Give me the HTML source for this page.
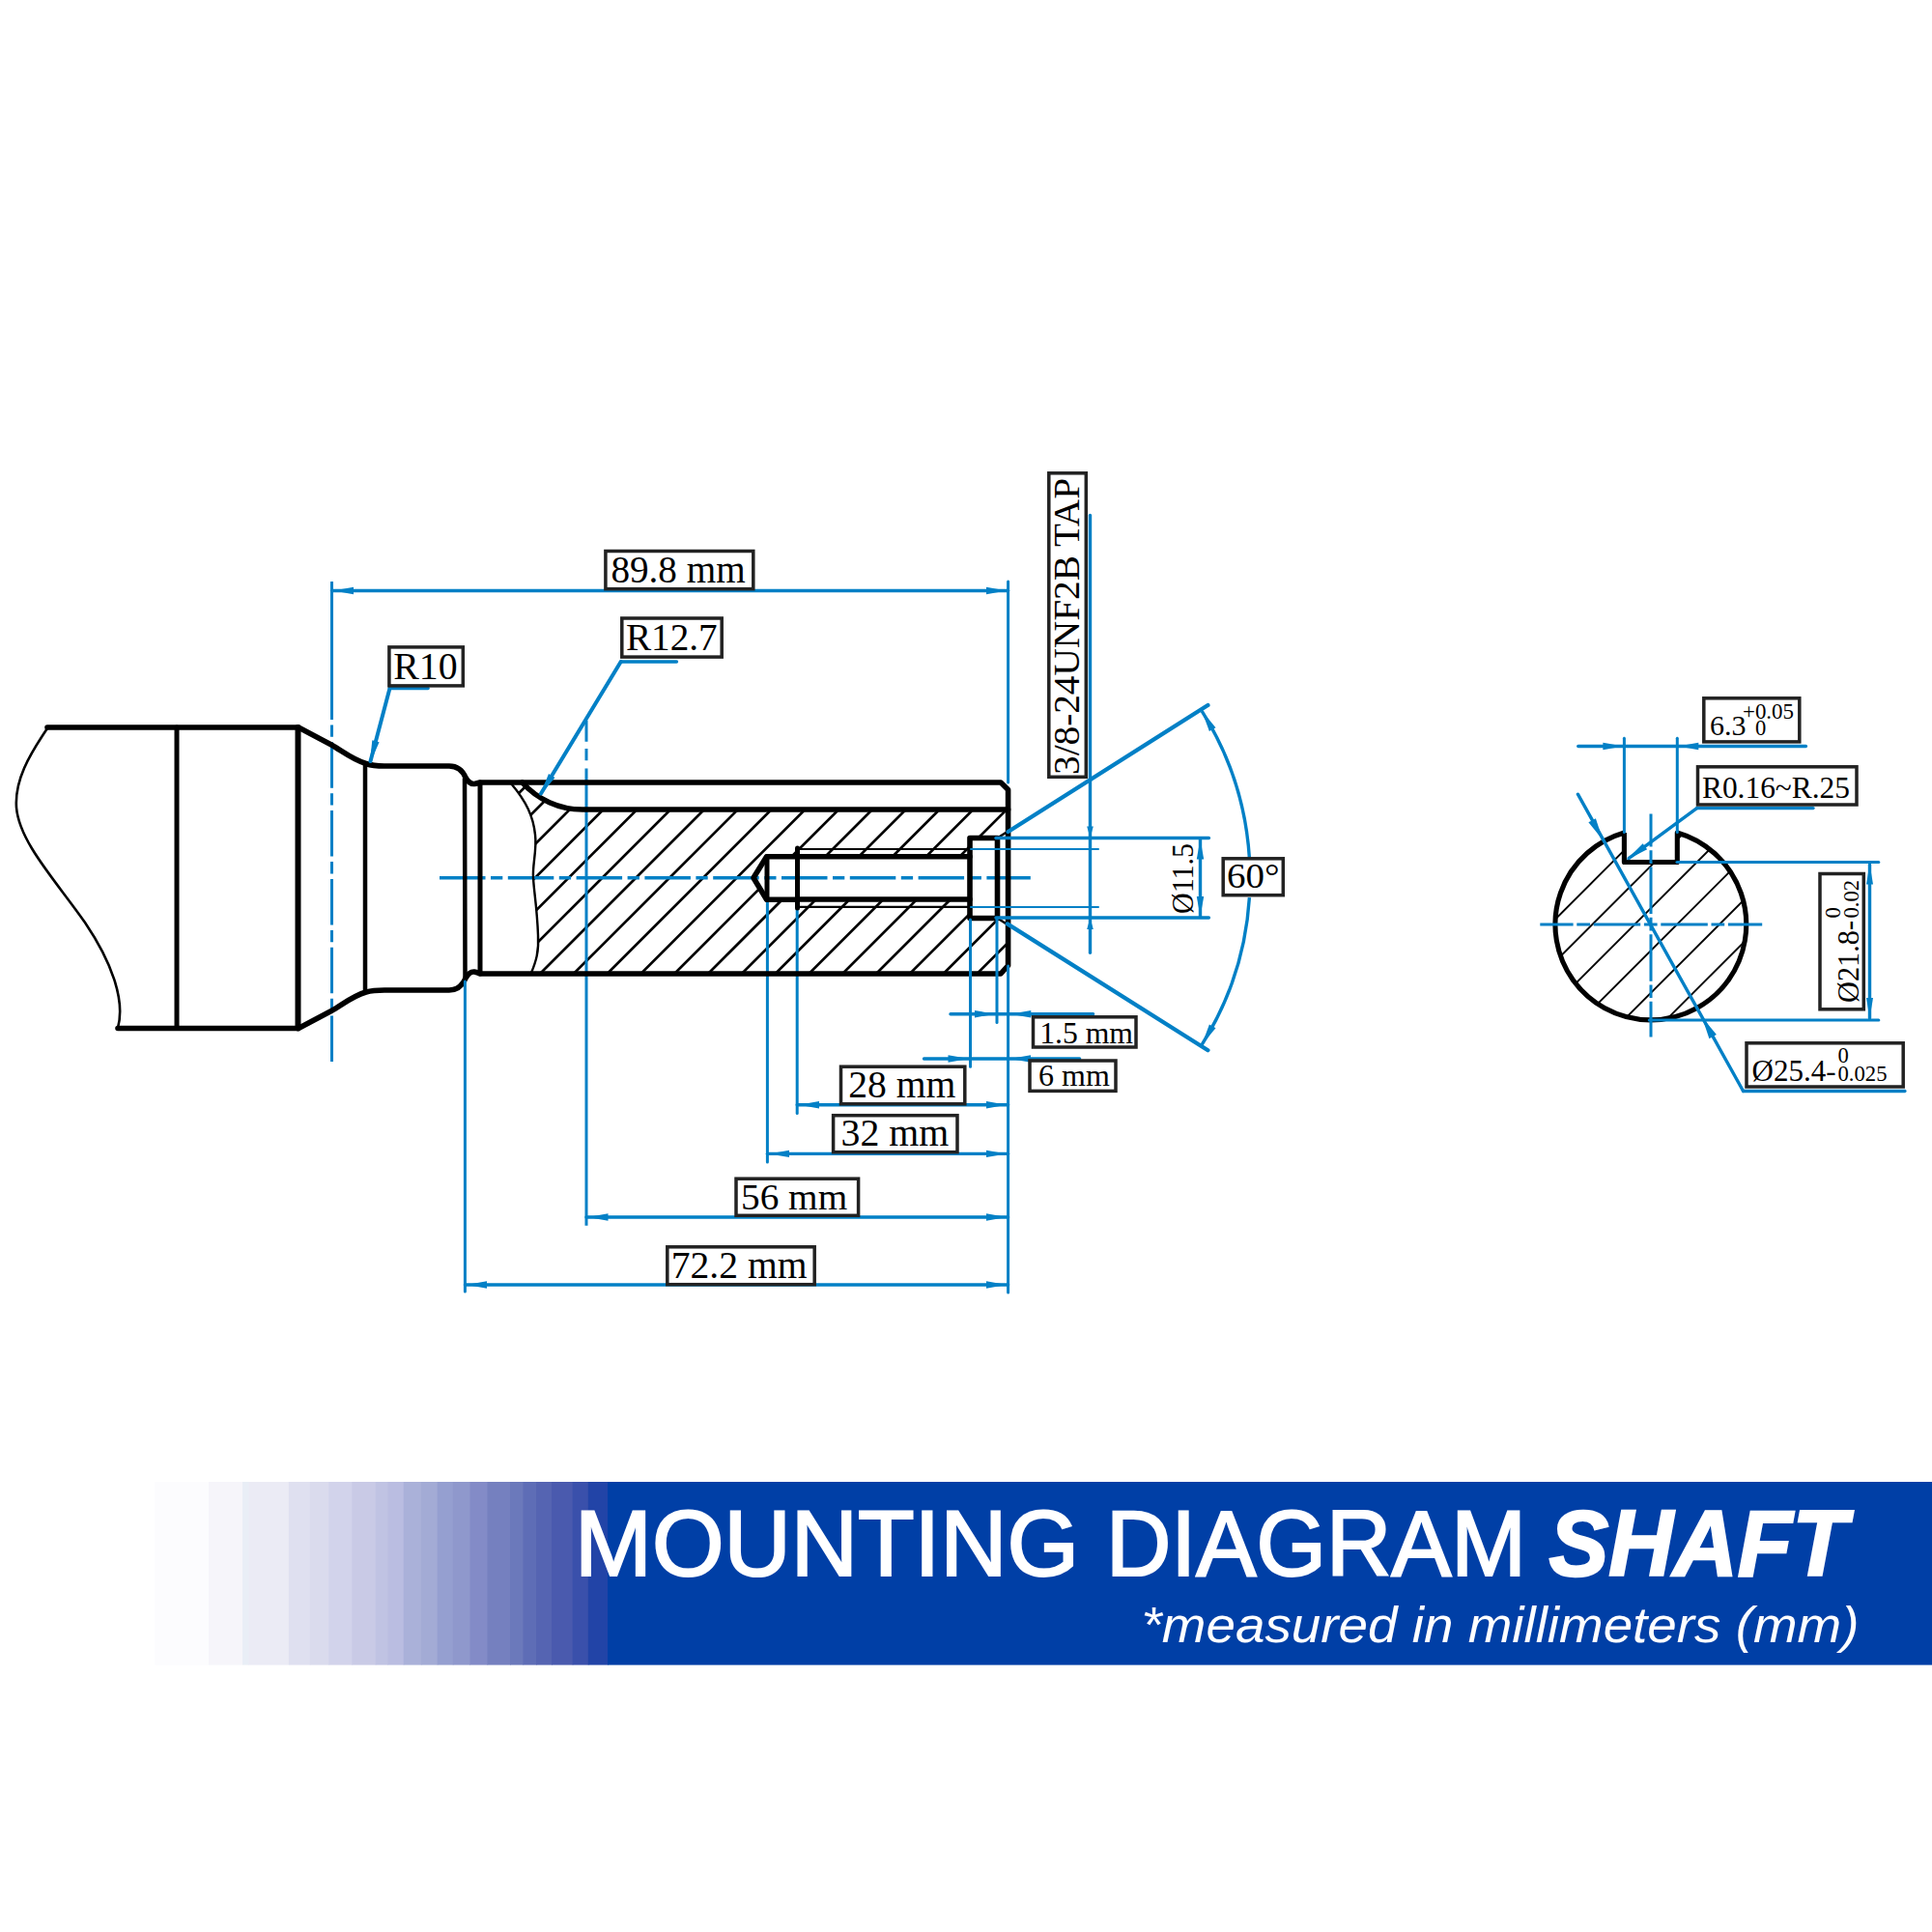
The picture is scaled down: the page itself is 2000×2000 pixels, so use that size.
<!DOCTYPE html>
<html><head><meta charset="utf-8"><style>
html,body{margin:0;padding:0;background:#fff;}
svg{display:block;}
</style></head><body>
<svg width="2000" height="2000" viewBox="0 0 2000 2000">
<rect width="2000" height="2000" fill="#fff"/>
<defs><linearGradient id="bg" x1="158" y1="0" x2="630" y2="0" gradientUnits="userSpaceOnUse"><stop offset="0" stop-color="#ffffff"/><stop offset="0.25" stop-color="#ecedf6"/><stop offset="0.45" stop-color="#c9cbe6"/><stop offset="0.65" stop-color="#97a0d0"/><stop offset="0.85" stop-color="#5566b6"/><stop offset="1" stop-color="#003ea6"/></linearGradient>
<clipPath id="hc"><path d="M529,810 C545,830 552,845 554,864 C556,880 551,895 552,909 C553,925 556,940 557,968 C558,985 555,995 550,1008 H1036 L1043.6,1000 V957 L1032,950.5 H1004 V931 H793.6 L780,908.8 L793.6,886.8 H1004 V867 H1032 L1043.6,860 V838 H603 A83.5,83.5 0 0 1 540.6,810 Z"/></clipPath>
<clipPath id="cc"><path d="M1681.4,862 V892.5 H1736.3 V862 A98.9,98.9 0 1 1 1681.4,862 Z"/></clipPath>
</defs>
<rect x="160.4" y="1534" width="56.2" height="189.6" fill="#fcfcfe"/>
<rect x="216" y="1534" width="35.6" height="189.6" fill="#f6f5fa"/>
<rect x="251" y="1534" width="7.0" height="189.6" fill="#e9eef6"/>
<rect x="257.4" y="1534" width="42.0" height="189.6" fill="#ebebf5"/>
<rect x="298.8" y="1534" width="22.6" height="189.6" fill="#dfe0f0"/>
<rect x="320.8" y="1534" width="20.0" height="189.6" fill="#dadbed"/>
<rect x="340.2" y="1534" width="24.6" height="189.6" fill="#d2d3eb"/>
<rect x="364.2" y="1534" width="25.1" height="189.6" fill="#c9cae6"/>
<rect x="388.7" y="1534" width="13.4" height="189.6" fill="#c0c3e3"/>
<rect x="401.5" y="1534" width="16.8" height="189.6" fill="#babde1"/>
<rect x="417.7" y="1534" width="18.8" height="189.6" fill="#aab1d9"/>
<rect x="435.9" y="1534" width="17.4" height="189.6" fill="#a3abd5"/>
<rect x="452.7" y="1534" width="16.7" height="189.6" fill="#959fd0"/>
<rect x="468.8" y="1534" width="18.1" height="189.6" fill="#8f98cc"/>
<rect x="486.3" y="1534" width="18.8" height="189.6" fill="#838bc7"/>
<rect x="504.5" y="1534" width="24.1" height="189.6" fill="#7580bf"/>
<rect x="528" y="1534" width="14.1" height="189.6" fill="#6b79bb"/>
<rect x="541.5" y="1534" width="14.1" height="189.6" fill="#5e6db6"/>
<rect x="555" y="1534" width="16.6" height="189.6" fill="#5564b2"/>
<rect x="571" y="1534" width="22.3" height="189.6" fill="#4a5aae"/>
<rect x="592.7" y="1534" width="16.7" height="189.6" fill="#3a50ab"/>
<rect x="608.8" y="1534" width="20.8" height="189.6" fill="#2244a7"/>
<rect x="629" y="1534" width="1371.6" height="189.6" fill="#003fa6"/>
<g font-family="Liberation Sans" font-size="96" fill="#fff" stroke="#fff" stroke-width="2.2">
<text x="595" y="1631" textLength="522" lengthAdjust="spacingAndGlyphs">MOUNTING</text>
<text x="1145" y="1631" textLength="435" lengthAdjust="spacingAndGlyphs">DIAGRAM</text>
<text x="1603.5" y="1631" textLength="308.4" lengthAdjust="spacingAndGlyphs" font-weight="bold" font-style="italic" stroke-width="2.4">SHAFT</text>
</g>
<text x="1181.5" y="1699.5" font-family="Liberation Sans" font-size="52" font-style="italic" fill="#fff" textLength="743" lengthAdjust="spacingAndGlyphs">*measured in millimeters (mm)</text>
<g clip-path="url(#hc)" stroke="#000" stroke-width="2.7">
<line x1="303.4" y1="1020" x2="523.4" y2="800"/>
<line x1="338.2" y1="1020" x2="558.2" y2="800"/>
<line x1="373.0" y1="1020" x2="593.0" y2="800"/>
<line x1="407.8" y1="1020" x2="627.8" y2="800"/>
<line x1="442.6" y1="1020" x2="662.6" y2="800"/>
<line x1="477.4" y1="1020" x2="697.4" y2="800"/>
<line x1="512.2" y1="1020" x2="732.2" y2="800"/>
<line x1="547.0" y1="1020" x2="767.0" y2="800"/>
<line x1="581.8" y1="1020" x2="801.8" y2="800"/>
<line x1="616.6" y1="1020" x2="836.6" y2="800"/>
<line x1="651.4" y1="1020" x2="871.4" y2="800"/>
<line x1="686.2" y1="1020" x2="906.2" y2="800"/>
<line x1="721.0" y1="1020" x2="941.0" y2="800"/>
<line x1="755.8" y1="1020" x2="975.8" y2="800"/>
<line x1="790.6" y1="1020" x2="1010.6" y2="800"/>
<line x1="825.4" y1="1020" x2="1045.4" y2="800"/>
<line x1="860.2" y1="1020" x2="1080.2" y2="800"/>
<line x1="895.0" y1="1020" x2="1115.0" y2="800"/>
<line x1="929.8" y1="1020" x2="1149.8" y2="800"/>
<line x1="964.6" y1="1020" x2="1184.6" y2="800"/>
<line x1="999.4" y1="1020" x2="1219.4" y2="800"/>
<line x1="1034.2" y1="1020" x2="1254.2" y2="800"/>
<line x1="1069.0" y1="1020" x2="1289.0" y2="800"/>
</g>
<g clip-path="url(#cc)" stroke="#000" stroke-width="1.9">
<line x1="1447.8" y1="1070" x2="1677.8" y2="840"/>
<line x1="1491.6" y1="1070" x2="1721.6" y2="840"/>
<line x1="1535.4" y1="1070" x2="1765.4" y2="840"/>
<line x1="1579.2" y1="1070" x2="1809.2" y2="840"/>
<line x1="1623.0" y1="1070" x2="1853.0" y2="840"/>
<line x1="1666.8" y1="1070" x2="1896.8" y2="840"/>
<line x1="1710.6" y1="1070" x2="1940.6" y2="840"/>
<line x1="1754.4" y1="1070" x2="1984.4" y2="840"/>
</g>
<line x1="455" y1="908.75" x2="1066.8" y2="908.75" stroke="#0280c6" stroke-width="3.4" stroke-linecap="butt" stroke-dasharray="47.5 5.5 12.3 5.5"/>
<line x1="343.5" y1="602" x2="343.5" y2="1102" stroke="#0280c6" stroke-width="3.0" stroke-linecap="butt" stroke-dasharray="143 5.5 12.3 5.5 47.5 5.5 12.3 5.5 47.5 5.5 12.3 5.5 47.5 5.5 12.3 5.5 47.5 5.5 12.3 5.5 47.5 5.5 12.3 5.5 47.5 5.5 12.3 5.5 47.5"/>
<line x1="607" y1="746" x2="607" y2="1268.8" stroke="#0280c6" stroke-width="3.0" stroke-linecap="butt" stroke-dasharray="21.7 7.3 12.3 8.3 1000"/>
<line x1="794.4" y1="908" x2="794.4" y2="1203" stroke="#0280c6" stroke-width="3.0" stroke-linecap="round" />
<line x1="825.2" y1="940" x2="825.2" y2="1152.4" stroke="#0280c6" stroke-width="3.0" stroke-linecap="round" />
<g fill="none" stroke="#000" stroke-linecap="round" stroke-linejoin="round">
<path d="M49,754 C30,782 15,808 17,836 C20,872 58,912 88,955 C115,995 130,1035 122,1064" stroke-width="2.6"/>
<path d="M49,753 H309 L343,771 C355,778 366,787 379,790.5 Q386,793 398,793 H465 C474,793 479,798 482,805 Q486,812 491,811.5 Q494,811 497,810 H1036 L1043.6,817.5 V999.5 L1036,1008 H497 Q494,1006.5 491,1006 Q486,1005.5 482,1012.5 C479,1019.5 474,1025 465,1025 H398 Q386,1025 379,1027 C366,1030.5 355,1039.5 343,1046.5 L309,1064.5 H122" stroke-width="5.6"/>
<line x1="183" y1="753" x2="183" y2="1064.5" stroke-width="5"/>
<line x1="308.5" y1="753" x2="308.5" y2="1064.5" stroke-width="6"/>
<line x1="378" y1="791" x2="378" y2="1026.5" stroke-width="4.5"/>
<line x1="481" y1="806" x2="481.5" y2="1012" stroke-width="4.5"/>
<line x1="497" y1="810" x2="497" y2="1008" stroke-width="5"/>
<path d="M540.6,810 A83.5,83.5 0 0 0 603,838 H1043.6" stroke-width="5.6"/>
<path d="M529,811 C545,830 552,845 554,864 C556,880 551,895 552,909 C553,925 556,940 557,968 C558,985 555,995 550,1007" stroke-width="2.4"/>
<path d="M825,886.8 H793.6 L780,908.8 L793.6,931.2 H825" stroke-width="5.6"/>
<line x1="794" y1="886.8" x2="794" y2="931.2" stroke-width="5"/>
<line x1="825.5" y1="878" x2="825.5" y2="940" stroke-width="5"/>
<path d="M825,886.8 H1004 M825,931 H1004" stroke-width="5.6"/>
<path d="M825,879 H1004 M825,938.8 H1004" stroke-width="2.2"/>
<path d="M1004,867.5 H1032.5 V950.5 H1004 Z" stroke-width="5.6"/>
<path d="M1032.5,867.5 L1043.6,860.5 M1032.5,950.5 L1043.6,957.5" stroke-width="2.6"/>
</g>
<line x1="1043.6" y1="602" x2="1043.6" y2="810" stroke="#0280c6" stroke-width="3.0" stroke-linecap="round" />
<line x1="1043.6" y1="1000" x2="1043.6" y2="1338" stroke="#0280c6" stroke-width="3.0" stroke-linecap="round" />
<line x1="481.4" y1="1016" x2="481.4" y2="1337" stroke="#0280c6" stroke-width="3.0" stroke-linecap="round" />
<line x1="1004.5" y1="952" x2="1004.5" y2="1104.3" stroke="#0280c6" stroke-width="3.0" stroke-linecap="round" />
<line x1="1032" y1="951" x2="1032" y2="1058.5" stroke="#0280c6" stroke-width="3.0" stroke-linecap="round" />
<line x1="343.5" y1="611.5" x2="1043.6" y2="611.5" stroke="#0280c6" stroke-width="3.4" stroke-linecap="round" />
<polygon points="345.0,611.5 366.0,607.8 366.0,615.2" fill="#0280c6"/>
<polygon points="1042.0,611.5 1021.0,615.2 1021.0,607.8" fill="#0280c6"/>
<line x1="481.4" y1="1330" x2="1043.6" y2="1330" stroke="#0280c6" stroke-width="3.4" stroke-linecap="round" />
<polygon points="483.0,1330.0 504.0,1326.3 504.0,1333.7" fill="#0280c6"/>
<polygon points="1042.0,1330.0 1021.0,1333.7 1021.0,1326.3" fill="#0280c6"/>
<line x1="607" y1="1260" x2="1043.6" y2="1260" stroke="#0280c6" stroke-width="3.4" stroke-linecap="round" />
<polygon points="608.5,1260.0 629.5,1256.3 629.5,1263.7" fill="#0280c6"/>
<polygon points="1042.0,1260.0 1021.0,1263.7 1021.0,1256.3" fill="#0280c6"/>
<line x1="794.4" y1="1194.4" x2="1043.6" y2="1194.4" stroke="#0280c6" stroke-width="3.4" stroke-linecap="round" />
<polygon points="796.0,1194.4 817.0,1190.7 817.0,1198.1" fill="#0280c6"/>
<polygon points="1042.0,1194.4 1021.0,1198.1 1021.0,1190.7" fill="#0280c6"/>
<line x1="825.2" y1="1143.8" x2="1043.6" y2="1143.8" stroke="#0280c6" stroke-width="3.4" stroke-linecap="round" />
<polygon points="827.0,1143.8 848.0,1140.1 848.0,1147.5" fill="#0280c6"/>
<polygon points="1042.0,1143.8 1021.0,1147.5 1021.0,1140.1" fill="#0280c6"/>
<line x1="956.5" y1="1096" x2="1117.6" y2="1096" stroke="#0280c6" stroke-width="3.4" stroke-linecap="round" />
<polygon points="1003.0,1096.0 981.5,1099.7 981.5,1092.3" fill="#0280c6"/>
<polygon points="1045.5,1096.0 1067.0,1092.3 1067.0,1099.7" fill="#0280c6"/>
<line x1="984" y1="1049.7" x2="1131.6" y2="1049.7" stroke="#0280c6" stroke-width="3.4" stroke-linecap="round" />
<polygon points="1030.5,1049.7 1009.0,1053.4 1009.0,1046.0" fill="#0280c6"/>
<polygon points="1045.8,1049.7 1067.3,1046.0 1067.3,1053.4" fill="#0280c6"/>
<line x1="403.5" y1="712.5" x2="443" y2="712.5" stroke="#0280c6" stroke-width="3.6" stroke-linecap="round" />
<line x1="403.5" y1="712.5" x2="383.5" y2="788" stroke="#0280c6" stroke-width="4.0" stroke-linecap="round" />
<polygon points="382.8,790.5 385.3,766.3 392.6,768.3" fill="#0280c6"/>
<line x1="642.7" y1="685" x2="700.4" y2="685" stroke="#0280c6" stroke-width="3.6" stroke-linecap="round" />
<line x1="642.7" y1="685" x2="560" y2="821.5" stroke="#0280c6" stroke-width="4.0" stroke-linecap="round" />
<polygon points="558.8,823.6 568.0,801.1 574.5,805.0" fill="#0280c6"/>
<line x1="1128.5" y1="533.5" x2="1128.5" y2="986.2" stroke="#0280c6" stroke-width="3.4" stroke-linecap="round" />
<polygon points="1128.5,867.5 1125.2,855.5 1131.8,855.5" fill="#0280c6"/>
<polygon points="1128.5,950.0 1131.8,962.0 1125.2,962.0" fill="#0280c6"/>
<line x1="1005" y1="879" x2="1137" y2="879" stroke="#0280c6" stroke-width="2" stroke-linecap="round" />
<line x1="1005" y1="939" x2="1137" y2="939" stroke="#0280c6" stroke-width="2" stroke-linecap="round" />
<line x1="1031" y1="867.5" x2="1251.4" y2="867.5" stroke="#0280c6" stroke-width="3.4" stroke-linecap="round" />
<line x1="1031" y1="950" x2="1251.4" y2="950" stroke="#0280c6" stroke-width="3.4" stroke-linecap="round" />
<line x1="1242.5" y1="869" x2="1242.5" y2="948.5" stroke="#0280c6" stroke-width="3.4" stroke-linecap="round" />
<polygon points="1242.5,868.5 1246.2,889.5 1238.8,889.5" fill="#0280c6"/>
<polygon points="1242.5,949.0 1238.8,928.0 1246.2,928.0" fill="#0280c6"/>
<line x1="1043.6" y1="861" x2="1250.4" y2="730" stroke="#0280c6" stroke-width="4.3" stroke-linecap="round" />
<line x1="1042.8" y1="956.4" x2="1250.4" y2="1087.2" stroke="#0280c6" stroke-width="4.3" stroke-linecap="round" />
<path d="M1244.2,736.1 A324,324 0 0 1 1293.4,888.4 M1293.4,929.1 A324,324 0 0 1 1244.2,1081.4" fill="none" stroke="#0280c6" stroke-width="3.4"/>
<polygon points="1244.2,736.1 1258.5,753.2 1251.9,757.0" fill="#0280c6"/>
<polygon points="1244.2,1081.4 1251.9,1060.5 1258.5,1064.3" fill="#0280c6"/>
<path d="M1681.4,862 V892.5 H1736.3 V862 A98.9,98.9 0 1 1 1681.4,862" fill="none" stroke="#000" stroke-width="5.1" stroke-linejoin="round"/>
<line x1="1594.3" y1="957" x2="1824.2" y2="957" stroke="#0280c6" stroke-width="3.0" stroke-linecap="butt" stroke-dasharray="48.5 3.7 13.7 3.7" stroke-dashoffset="14.2"/>
<line x1="1709" y1="842.6" x2="1709" y2="1073.4" stroke="#0280c6" stroke-width="3.0" stroke-linecap="butt" stroke-dasharray="48.5 3.7 13.7 3.7" stroke-dashoffset="14.6"/>
<line x1="1633.8" y1="772.5" x2="1869.4" y2="772.5" stroke="#0280c6" stroke-width="3.4" stroke-linecap="round" />
<polygon points="1680.4,772.5 1659.4,776.2 1659.4,768.8" fill="#0280c6"/>
<polygon points="1737.3,772.5 1758.3,768.8 1758.3,776.2" fill="#0280c6"/>
<line x1="1681.4" y1="764.2" x2="1681.4" y2="861.5" stroke="#0280c6" stroke-width="3.0" stroke-linecap="round" />
<line x1="1736.3" y1="764.2" x2="1736.3" y2="861.5" stroke="#0280c6" stroke-width="3.0" stroke-linecap="round" />
<line x1="1756.6" y1="836.6" x2="1877" y2="836.6" stroke="#0280c6" stroke-width="3.4" stroke-linecap="round" />
<line x1="1756.6" y1="836.6" x2="1686" y2="888.6" stroke="#0280c6" stroke-width="3.4" stroke-linecap="round" />
<polygon points="1683.5,890.5 1700.6,873.2 1705.1,879.3" fill="#0280c6"/>
<line x1="1736" y1="892.5" x2="1944.8" y2="892.5" stroke="#0280c6" stroke-width="3.1" stroke-linecap="round" />
<line x1="1707.3" y1="1056" x2="1944.8" y2="1056" stroke="#0280c6" stroke-width="3.1" stroke-linecap="round" />
<line x1="1935.5" y1="895" x2="1935.5" y2="1054" stroke="#0280c6" stroke-width="3.4" stroke-linecap="round" />
<polygon points="1935.5,894.0 1939.0,915.5 1932.0,915.5" fill="#0280c6"/>
<polygon points="1935.5,1054.5 1932.0,1033.0 1939.0,1033.0" fill="#0280c6"/>
<line x1="1633.4" y1="822.2" x2="1804.6" y2="1129.5" stroke="#0280c6" stroke-width="3.4" stroke-linecap="round" />
<line x1="1804.6" y1="1129.5" x2="1971.9" y2="1129.5" stroke="#0280c6" stroke-width="3.4" stroke-linecap="round" />
<polygon points="1659.2,869.4 1644.4,851.3 1651.9,847.2" fill="#0280c6"/>
<polygon points="1762.0,1053.0 1776.9,1071.0 1769.4,1075.2" fill="#0280c6"/>
<rect x="626.9" y="570.5" width="152.9" height="39.2" fill="#fff" stroke="#222" stroke-width="3.5"/>
<text x="632.4" y="603.25" font-family="Liberation Serif" font-size="39" text-anchor="start" textLength="139.2" lengthAdjust="spacingAndGlyphs" >89.8 mm</text>
<rect x="402.9" y="669.9" width="76.4" height="40.0" fill="#fff" stroke="#222" stroke-width="3.5"/>
<text x="407.2" y="702.5" font-family="Liberation Serif" font-size="39" text-anchor="start" textLength="66.4" lengthAdjust="spacingAndGlyphs" >R10</text>
<rect x="643.8" y="640.0" width="103.4" height="40.1" fill="#fff" stroke="#222" stroke-width="3.5"/>
<text x="648.0" y="673.25" font-family="Liberation Serif" font-size="39.5" text-anchor="start" textLength="94.6" lengthAdjust="spacingAndGlyphs" >R12.7</text>
<rect x="1069.5" y="1052.8" width="106.5" height="31.2" fill="#fff" stroke="#222" stroke-width="3.5"/>
<text x="1076.2" y="1079.5" font-family="Liberation Serif" font-size="31.5" text-anchor="start" textLength="96.8" lengthAdjust="spacingAndGlyphs" >1.5 mm</text>
<rect x="1066.0" y="1098.0" width="89.0" height="31.4" fill="#fff" stroke="#222" stroke-width="3.5"/>
<text x="1075.0" y="1123.75" font-family="Liberation Serif" font-size="31" text-anchor="start" textLength="73.8" lengthAdjust="spacingAndGlyphs" >6 mm</text>
<rect x="870.5" y="1104.2" width="128.3" height="38.6" fill="#fff" stroke="#222" stroke-width="3.5"/>
<text x="878.2" y="1136.0" font-family="Liberation Serif" font-size="39.5" text-anchor="start" textLength="111.2" lengthAdjust="spacingAndGlyphs" >28 mm</text>
<rect x="862.6" y="1154.7" width="128.4" height="38.0" fill="#fff" stroke="#222" stroke-width="3.5"/>
<text x="870.6" y="1186.25" font-family="Liberation Serif" font-size="39.5" text-anchor="start" textLength="111.6" lengthAdjust="spacingAndGlyphs" >32 mm</text>
<rect x="762.0" y="1220.2" width="126.6" height="38.1" fill="#fff" stroke="#222" stroke-width="3.5"/>
<text x="767.0" y="1251.5" font-family="Liberation Serif" font-size="38" text-anchor="start" textLength="110.2" lengthAdjust="spacingAndGlyphs" >56 mm</text>
<rect x="690.8" y="1290.8" width="152.4" height="38.9" fill="#fff" stroke="#222" stroke-width="3.5"/>
<text x="694.8" y="1323.0" font-family="Liberation Serif" font-size="39" text-anchor="start" textLength="140.6" lengthAdjust="spacingAndGlyphs" >72.2 mm</text>
<rect x="1266.2" y="888.8" width="62.1" height="37.9" fill="#fff" stroke="#222" stroke-width="3.5"/>
<text x="1270.0" y="919.0" font-family="Liberation Serif" font-size="36" text-anchor="start" textLength="54.6" lengthAdjust="spacingAndGlyphs" >60°</text>
<rect x="1757.5" y="793.8" width="164.5" height="39.2" fill="#fff" stroke="#222" stroke-width="3.5"/>
<text x="1762.0" y="826.0" font-family="Liberation Serif" font-size="31.7" text-anchor="start" textLength="153.0" lengthAdjust="spacingAndGlyphs" >R0.16~R.25</text>
<rect x="1085.8" y="489.8" width="38.5" height="314.5" fill="#fff" stroke="#222" stroke-width="3.5"/>
<text transform="translate(1117.4,802) rotate(-90)" font-family="Liberation Serif" font-size="38" textLength="307" lengthAdjust="spacingAndGlyphs">3/8-24UNF2B TAP</text>
<text transform="translate(1234.9,946) rotate(-90)" font-family="Liberation Serif" font-size="31" textLength="73" lengthAdjust="spacingAndGlyphs">Ø11.5</text>
<rect x="1763.8" y="722.8" width="99.0" height="45.1" fill="#fff" stroke="#222" stroke-width="3.5"/>
<text x="1770" y="761.4" font-family="Liberation Serif" font-size="30" text-anchor="start" >6.3</text>
<text x="1804" y="743.5" font-family="Liberation Serif" font-size="22.6" text-anchor="start" textLength="53" lengthAdjust="spacingAndGlyphs" >+0.05</text>
<text x="1817" y="761.4" font-family="Liberation Serif" font-size="22.6" text-anchor="start" >0</text>
<rect x="1884.0" y="904.5" width="45.3" height="140.3" fill="#fff" stroke="#222" stroke-width="3.5"/>
<g transform="translate(1923.7,1038) rotate(-90)" font-family="Liberation Serif"><text x="0" y="0" font-size="32" textLength="85" lengthAdjust="spacingAndGlyphs">Ø21.8-</text><text x="87.5" y="0" font-size="23" textLength="39.5" lengthAdjust="spacingAndGlyphs">0.02</text><text x="87.5" y="-19" font-size="23">0</text></g>
<rect x="1808.0" y="1079.8" width="162.2" height="45.2" fill="#fff" stroke="#222" stroke-width="3.5"/>
<text x="1813.5" y="1118.7" font-family="Liberation Serif" font-size="30.5" text-anchor="start" textLength="87" lengthAdjust="spacingAndGlyphs" >Ø25.4-</text>
<text x="1902.5" y="1118.7" font-family="Liberation Serif" font-size="22.6" text-anchor="start" textLength="51" lengthAdjust="spacingAndGlyphs" >0.025</text>
<text x="1902.5" y="1099.5" font-family="Liberation Serif" font-size="22.6" text-anchor="start" >0</text>
</svg></body></html>
